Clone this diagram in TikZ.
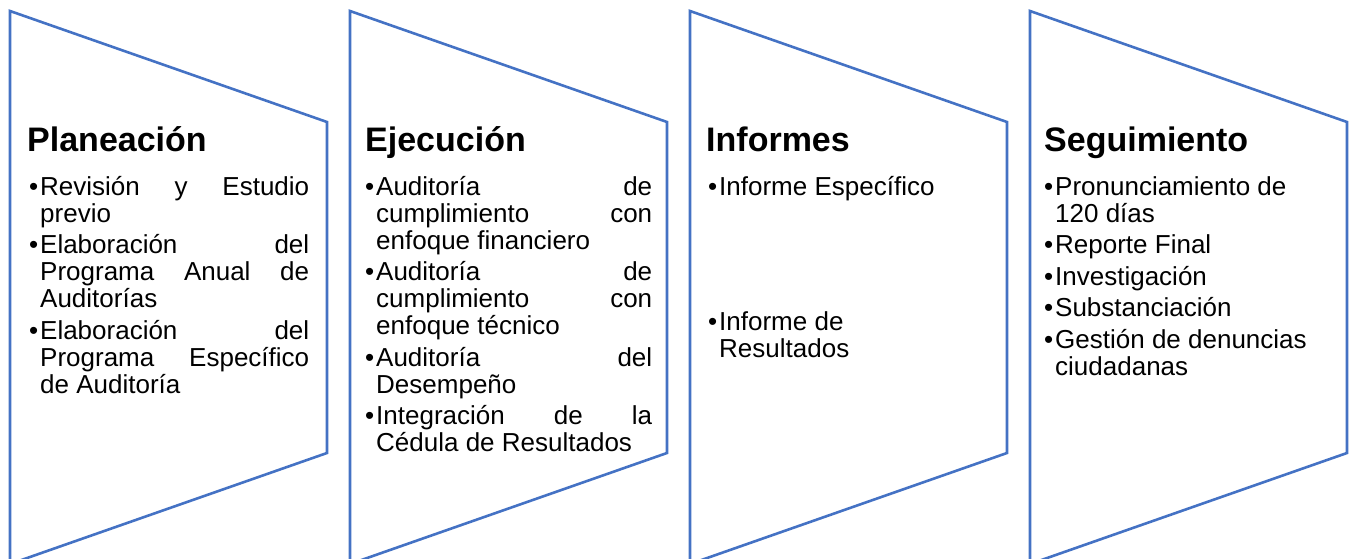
\documentclass[tikz,border=0pt]{standalone}
\usepackage{fontspec}
\setmainfont{Liberation Sans}
\usepackage{xcolor}
\usepackage{tikz}

\definecolor{azulborde}{HTML}{4472C4}

% viñeta con sangría francesa
\newcommand{\vineta}[1]{\par\hangindent=11pt\hangafter=1\noindent\makebox[11pt][l]{\textbullet}#1}
\newcommand{\lista}[2][284pt]{\parbox[t]{#1}{\fontsize{26}{27}\selectfont\setlength{\parindent}{0pt}\setlength{\parskip}{4.5pt}#2}}

\begin{document}
\begin{tikzpicture}[x=1pt, y=-1pt,
    contorno/.style={draw=azulborde, line width=2.6pt, line join=miter},
    titulo/.style={anchor=base west, inner sep=0pt, font=\fontsize{34}{40}\selectfont\bfseries},
    texto/.style={anchor=base west, inner sep=0pt}]
      \useasboundingbox (0,0) rectangle (1349,559);
      \clip (0,0) rectangle (1349,559);

      % Contornos
      \foreach \x in {0,340,680,1020}
        \draw[contorno] (10+\x,11) -- ++(317,111) -- ++(0,331) -- ++(-317,111) -- cycle;

      % Títulos
      \node[titulo] (planeacion) at (27,151) {Planeación};
      \node[titulo] (ejecucion) at (365,151) {Ejecución};
      \node[titulo] (informes) at (706,151) {Informes};
      \node[titulo] (seguimiento) at (1044,151) {Seguimiento};

      % Listas
      \node[texto] (listaplan) at (29,195) {\lista[280pt]{%
        \vineta{Revisión \hfill y \hfill Estudio\\previo}
        \vineta{Elaboración \hfill del\\Programa \hfill Anual \hfill de\\Auditorías}
        \vineta{Elaboración \hfill del\\Programa \hfill Específico\\de Auditoría}}};
      \node[texto] (listaejec) at (365,195) {\lista[287pt]{%
        \vineta{Auditoría \hfill de\\cumplimiento \hfill con\\enfoque financiero}
        \vineta{Auditoría \hfill de\\cumplimiento \hfill con\\enfoque técnico}
        \vineta{Auditoría \hfill del\\Desempeño}
        \vineta{Integración \hfill de \hfill la\\Cédula de Resultados}}};
      \node[texto] (listainf) at (708,195) {\lista{%
        \vineta{Informe Específico}\par\vspace{104pt}
        \vineta{Informe de\\Resultados}}};
      \node[texto] (listaseg) at (1044,195) {\lista{%
        \vineta{Pronunciamiento de\\120 días}
        \vineta{Reporte Final}
        \vineta{Investigación}
        \vineta{Substanciación}
        \vineta{Gestión de denuncias\\ciudadanas}}};
    \end{tikzpicture}
\end{document}
